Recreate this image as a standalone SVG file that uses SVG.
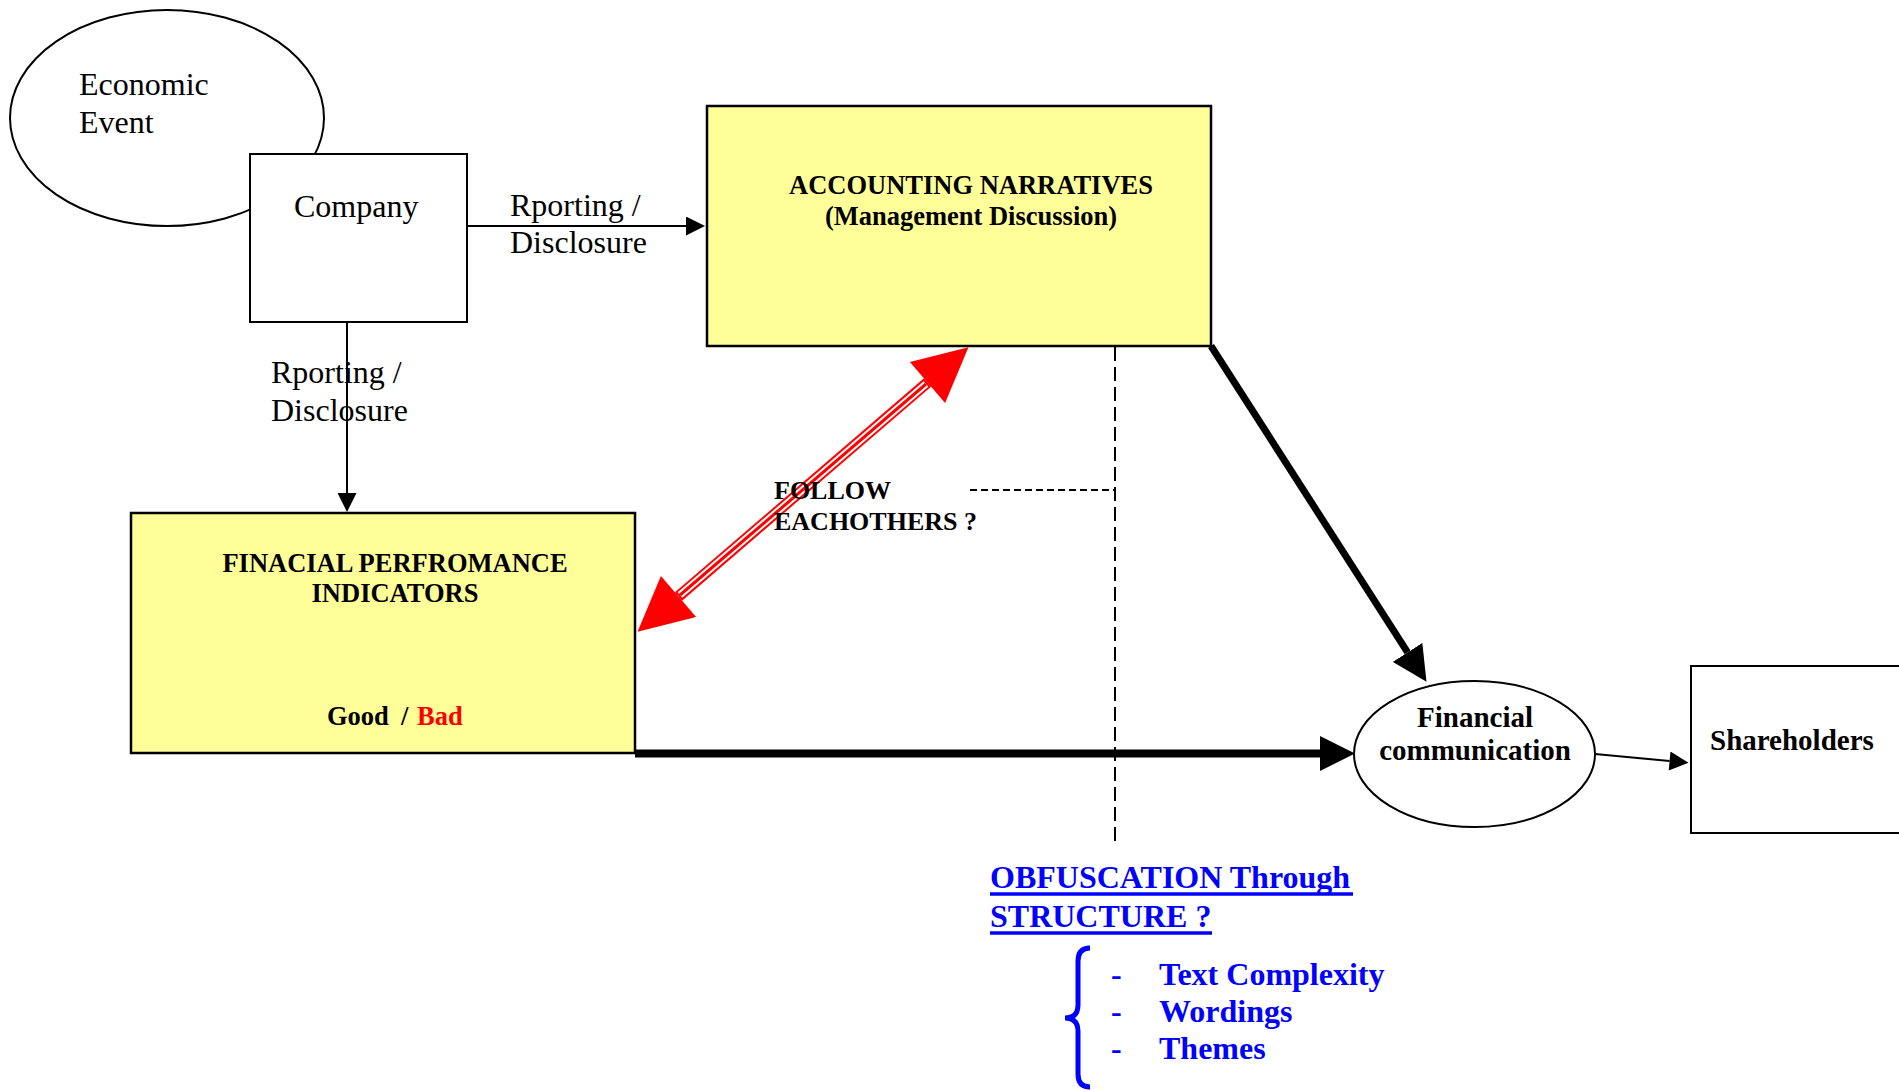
<svg xmlns="http://www.w3.org/2000/svg" width="1899" height="1090" viewBox="0 0 1899 1090">
  <style>
    text { font-family: "Liberation Serif", "Times New Roman", serif; fill: #000; }
    .reg { font-size: 32px; }
    .title { font-size: 26.5px; font-weight: bold; }
    .lbl { font-size: 26px; font-weight: bold; }
    .node-b { font-size: 29px; font-weight: bold; }
    .blue { fill: #0000FF; font-weight: bold; }
    .shape { stroke: #000; stroke-width: 2; }
    .yellow { fill: #FFFF99; stroke: #000; stroke-width: 2.5; }
    .white { fill: #FFFFFF; }
    .thin { stroke: #000; stroke-width: 2; fill: none; }
    .thick { stroke: #000; fill: none; }
    .dash { stroke: #000; stroke-width: 2; fill: none; }
  </style>
  <defs>
    <marker id="headSmall" viewBox="0 0 10 10" refX="0" refY="5" markerUnits="userSpaceOnUse" markerWidth="21" markerHeight="19" orient="auto">
      <path d="M0,0 L10,5 L0,10 z" fill="#000"/>
    </marker>
    <marker id="headBig" viewBox="0 0 10 10" refX="0" refY="5" markerUnits="userSpaceOnUse" markerWidth="35" markerHeight="36" orient="auto">
      <path d="M0,0 L10,5 L0,10 z" fill="#000"/>
    </marker>
    <marker id="headRed" viewBox="0 0 10 10" refX="0" refY="5" markerUnits="userSpaceOnUse" markerWidth="56" markerHeight="54" orient="auto-start-reverse">
      <path d="M0,0 L10,5 L0,10 z" fill="#FF0000"/>
    </marker>
  </defs>

  <g id="economic-event">
    <ellipse cx="167" cy="118" rx="157" ry="108" class="shape white"/>
    <text class="reg" x="79" y="95">Economic</text>
    <text class="reg" x="79" y="133">Event</text>
  </g>

  <g id="company">
    <rect x="250" y="154" width="217" height="168" class="shape white"/>
    <text class="reg" x="294" y="217">Company</text>
  </g>

  <g id="accounting-narratives">
    <rect x="707" y="106" width="504" height="240" class="yellow"/>
    <text class="title" x="971" y="194" text-anchor="middle">ACCOUNTING NARRATIVES</text>
    <text class="title" x="971" y="225" text-anchor="middle">(Management Discussion)</text>
  </g>

  <g id="financial-performance-indicators">
    <rect x="131" y="513" width="504" height="240" class="yellow"/>
    <text class="title" x="395" y="572" text-anchor="middle">FINACIAL PERFROMANCE</text>
    <text class="title" x="395" y="602" text-anchor="middle">INDICATORS</text>
    <text class="title" y="725"><tspan x="327">Good</tspan><tspan x="401">/</tspan><tspan x="417" fill="#FF0000">Bad</tspan></text>
  </g>

  <g id="financial-communication">
    <ellipse cx="1474.5" cy="754" rx="120.5" ry="73" class="shape white"/>
    <text class="node-b" x="1475" y="727" text-anchor="middle">Financial</text>
    <text class="node-b" x="1475" y="760" text-anchor="middle">communication</text>
  </g>

  <g id="shareholders">
    <rect x="1691" y="666" width="260" height="167" class="shape white"/>
    <text class="node-b" x="1710" y="750">Shareholders</text>
  </g>

  <g id="reporting-label-1">
    <text class="reg" x="510" y="216">Rporting /</text>
    <text class="reg" x="510" y="253">Disclosure</text>
  </g>
  <g id="reporting-label-2">
    <text class="reg" x="271" y="383">Rporting /</text>
    <text class="reg" x="271" y="421">Disclosure</text>
  </g>

  <g id="connectors">
    <line x1="467" y1="226" x2="686" y2="226" class="thin" marker-end="url(#headSmall)"/>
    <line x1="347" y1="322" x2="347" y2="493" class="thin" marker-end="url(#headSmall)"/>
    <line x1="1595" y1="754" x2="1669.6" y2="761" class="thin" marker-end="url(#headSmall)"/>
    <line x1="635" y1="753.5" x2="1320" y2="753.5" class="thick" stroke-width="8" marker-end="url(#headBig)"/>
    <line x1="1211" y1="346" x2="1407.6" y2="652.4" class="thick" stroke-width="7" marker-end="url(#headBig)"/>
    <g id="follow-arrow">
      <line x1="678.5" y1="596.5" x2="927.5" y2="382.5" stroke="#FF0000" stroke-width="11" marker-start="url(#headRed)" marker-end="url(#headRed)"/>
      <line x1="680" y1="595" x2="926" y2="384" stroke="#FFFFFF" stroke-width="7"/>
      <line x1="680" y1="595" x2="926" y2="384" stroke="#FF0000" stroke-width="3"/>
    </g>
    <line x1="1115" y1="347" x2="1115" y2="847" class="dash" stroke-dasharray="14 6"/>
    <line x1="970" y1="490" x2="1115" y2="490" class="dash" stroke-dasharray="7 4"/>
  </g>

  <g id="follow-label">
    <text class="lbl" x="774" y="499">FOLLOW</text>
    <text class="lbl" x="774" y="530">EACHOTHERS ?</text>
  </g>

  <g id="obfuscation">
    <text class="blue" font-size="32" x="990" y="888">OBFUSCATION Through</text>
    <line x1="990" y1="894" x2="1353" y2="894" stroke="#0000FF" stroke-width="3.5"/>
    <text class="blue" font-size="32" x="990" y="927">STRUCTURE ?</text>
    <line x1="990" y1="933" x2="1212" y2="933" stroke="#0000FF" stroke-width="3.5"/>
    <path d="M1090,948 Q1078,948 1078,961 L1078,1005 Q1078,1018 1065,1018 Q1078,1018 1078,1031 L1078,1074 Q1078,1087 1090,1087" fill="none" stroke="#0000FF" stroke-width="5"/>
    <text class="blue" font-size="32" x="1111" y="985">-</text>
    <text class="blue" font-size="32" x="1159" y="985">Text Complexity</text>
    <text class="blue" font-size="32" x="1111" y="1022">-</text>
    <text class="blue" font-size="32" x="1159" y="1022">Wordings</text>
    <text class="blue" font-size="32" x="1111" y="1059">-</text>
    <text class="blue" font-size="32" x="1159" y="1059">Themes</text>
  </g>
</svg>
